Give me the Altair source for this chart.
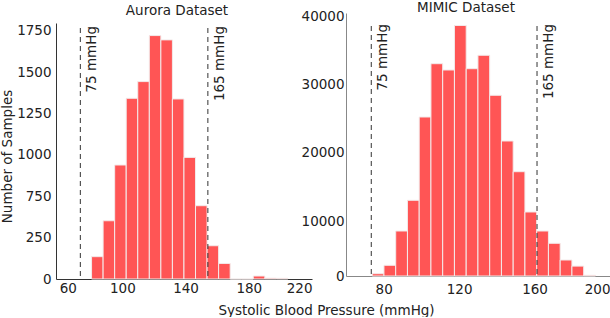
import altair as alt
import pandas as pd

# ---- data ----
aurora_bin_start = 80.5
aurora_bin_width = 7.31
aurora_counts = [135, 454, 939, 1342, 1443, 1721, 1695, 1338, 985, 636, 201, 94, 0, 0, 18, 5, 4]
aurora_lines = [73.4, 154.1]

mimic_bin_start = 73.9
mimic_bin_width = 6.23
mimic_counts = [420, 1945, 8180, 13044, 25294, 33132, 32206, 38750, 32400, 34368,
                28485, 21765, 17250, 11324, 8180, 5945, 2909, 1800, 130]
mimic_lines = [73.4, 161.3]

line_labels = ["75 mmHg", "165 mmHg"]
titles = ["Aurora Dataset", "MIMIC Dataset"]
x_title = "Systolic Blood Pressure (mmHg)"
y_title = "Number of Samples"

aurora_xticks = [60, 100, 140, 180, 220]
aurora_yticks = [0, 250, 750, 1000, 1250, 1500, 1750]
mimic_xticks = [80, 120, 160, 200]
mimic_yticks = [0, 10000, 20000, 30000, 40000]

FONT = "DejaVu Sans"
FS = 13.5
BAR = "#ff5555"


def hist_df(start, width, counts):
    return pd.DataFrame({
        "start": [start + i * width for i in range(len(counts))],
        "end": [start + (i + 1) * width for i in range(len(counts))],
        "count": counts,
    })


def panel(df, lines, title, title_dx, xdom, xticks, ydom, yrange, yticks, w, h,
          axis_color, ylab_pad, xlab_pad, ytitle, xtitle, text_top, line_top):
    xscale = alt.Scale(domain=xdom, nice=False, zero=False)
    yscale = alt.Scale(domain=ydom, range=yrange, nice=False, zero=False)
    xaxis_kw = dict(values=xticks, ticks=False, tickSize=0, grid=False, labelFlush=5,
                    domainColor=axis_color, labelFont=FONT, labelFontSize=FS,
                    labelColor="#222", labelPadding=xlab_pad, format="d")
    if xtitle:
        xaxis_kw.update(title=xtitle, titleFont=FONT, titleFontSize=FS,
                        titleFontWeight="normal", titleColor="#222",
                        titleX=270, titleY=35, titleAlign="center",
                        titleBaseline="alphabetic", titleAnchor="middle")
    else:
        xaxis_kw.update(title=None)
    yaxis_kw = dict(values=yticks, ticks=False, tickSize=0, grid=False,
                    domainColor=axis_color, labelFont=FONT, labelFontSize=FS,
                    labelColor="#222", labelPadding=ylab_pad, format="d")
    if ytitle:
        yaxis_kw.update(title=ytitle, titleFont=FONT, titleFontSize=FS,
                        titleFontWeight="normal", titleColor="#222", titlePadding=2,
                        titleY=143)
    else:
        yaxis_kw.update(title=None)

    bars = alt.Chart(df).mark_bar(color=BAR, stroke="#f3eaea", strokeWidth=1).encode(
        x=alt.X("start:Q", scale=xscale, axis=alt.Axis(**xaxis_kw)),
        x2="end:Q",
        y=alt.Y("count:Q", scale=yscale, axis=alt.Axis(**yaxis_kw)),
        y2=alt.datum(0),
    )
    ldf = pd.DataFrame({"pos": lines, "label": line_labels})
    rules = alt.Chart(ldf).mark_rule(color="#333", strokeDash=[5, 4], strokeWidth=1).encode(
        x="pos:Q", y=alt.value(line_top), y2=alt.value(h)
    )
    texts = alt.Chart(ldf).mark_text(angle=270, align="right", baseline="top", dy=5,
                                     font=FONT, fontSize=FS, color="#222").encode(
        x="pos:Q", y=alt.value(text_top), text="label:N"
    )
    return alt.layer(bars, rules, texts).properties(
        width=w, height=h,
        title=alt.Title(title, font=FONT, fontSize=FS, fontWeight="normal",
                        color="#222", offset=-4.5, dx=title_dx, anchor="middle"),
    )


left = panel(hist_df(aurora_bin_start, aurora_bin_width, aurora_counts), aurora_lines,
             titles[0], -7, [58, 220], aurora_xticks,
             [0, 250, 750, 1797], [266, 224.64, 183.28, 10], aurora_yticks,
             256, 266, "#333", 5, 2, y_title, x_title, 13, 15)
right = panel(hist_df(mimic_bin_start, mimic_bin_width, mimic_counts), mimic_lines,
              titles[1], -12, [60, 200], mimic_xticks,
              [0, 10000, 40588], [263, 208, 0], mimic_yticks,
              264, 263, "#888", 2, 6, None, None, 11, 13)

chart = alt.hconcat(left, right, spacing=34, bounds="flush").configure_view(
    stroke=None
).properties(padding={"left": 0, "top": 0, "right": 0, "bottom": 0})

chart.save("out.html", embed_options={"renderer": "svg", "actions": False})
